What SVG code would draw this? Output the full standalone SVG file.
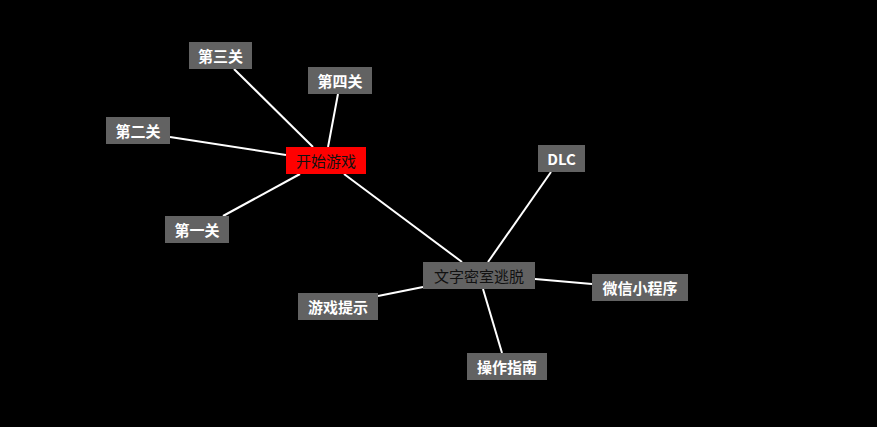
<svg xmlns="http://www.w3.org/2000/svg" width="877" height="427" viewBox="0 0 877 427">
<style>
.n rect{fill:#626262}
.n text{font-family:"Noto Sans CJK SC","Liberation Sans",sans-serif;font-size:15px;font-weight:bold;fill:#fff;text-anchor:middle;dominant-baseline:central}
.dark text{fill:#111;font-weight:normal}
#edges line{stroke:#fff;stroke-width:2}
</style>
<rect width="877" height="427" fill="#000"/>
<g id="edges">
<line x1="234" y1="69" x2="313" y2="147"/>
<line x1="338" y1="94" x2="328" y2="147"/>
<line x1="170" y1="137" x2="286" y2="155"/>
<line x1="223" y1="216" x2="300" y2="174"/>
<line x1="344" y1="174" x2="462" y2="262"/>
<line x1="551" y1="172" x2="488" y2="262"/>
<line x1="378" y1="296" x2="423" y2="287"/>
<line x1="535" y1="279" x2="592" y2="284"/>
<line x1="502" y1="353" x2="483" y2="289"/>
</g>
<g id="n3" class="n"><rect x="189" y="42" width="63" height="27"/><text x="220.5" y="55.5">第三关</text></g>
<g id="n4" class="n"><rect x="308" y="67" width="64" height="27"/><text x="340" y="80.5">第四关</text></g>
<g id="n2" class="n"><rect x="106" y="117" width="64" height="27"/><text x="138" y="130.5">第二关</text></g>
<g id="start" class="n dark"><rect x="286" y="147" width="80" height="27" style="fill:#f00"/><text x="326" y="160.5">开始游戏</text></g>
<g id="n1" class="n"><rect x="165" y="216" width="64" height="27"/><text x="197" y="229.5">第一关</text></g>
<g id="dlc" class="n"><rect x="538" y="145" width="47" height="27"/><text x="561.5" y="158.5">DLC</text></g>
<g id="root" class="n dark"><rect x="423" y="262" width="112" height="27"/><text x="479" y="275.5">文字密室逃脱</text></g>
<g id="tips" class="n"><rect x="298" y="293" width="80" height="27"/><text x="338" y="306.5">游戏提示</text></g>
<g id="wx" class="n"><rect x="592" y="274" width="96" height="27"/><text x="640" y="287.5">微信小程序</text></g>
<g id="guide" class="n"><rect x="467" y="353" width="80" height="27"/><text x="507" y="366.5">操作指南</text></g>
</svg>
